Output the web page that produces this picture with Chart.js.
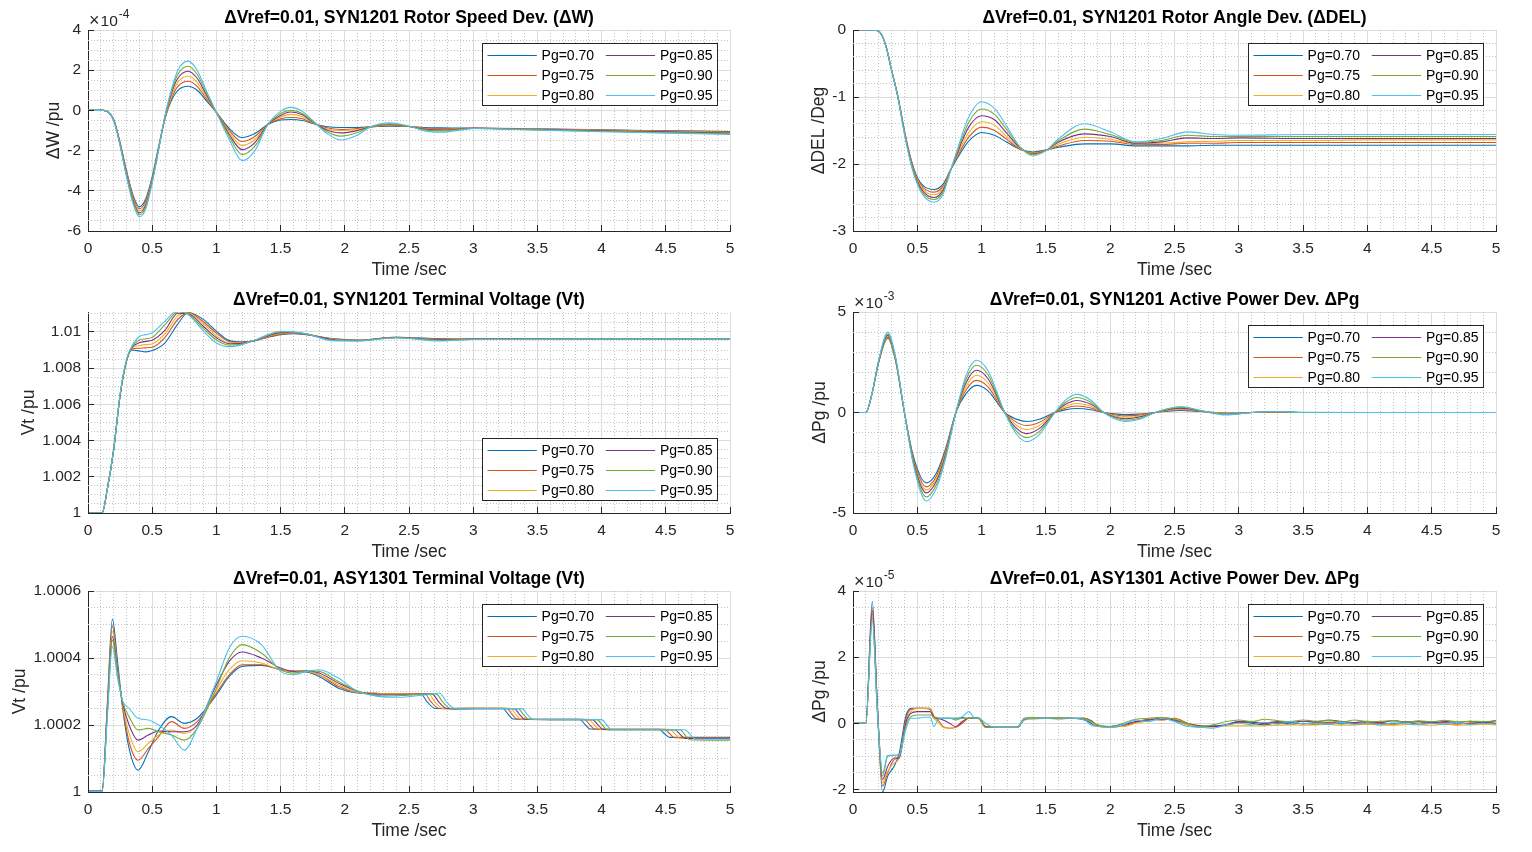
<!DOCTYPE html>
<html><head><meta charset="utf-8">
<script src="https://cdn.jsdelivr.net/npm/chart.js@4.4.1/dist/chart.umd.min.js"></script>
<style>
html,body{margin:0;padding:0;background:#fff;width:1532px;height:852px;overflow:hidden;position:relative}
canvas{position:absolute}
</style>
</head><body>
<canvas id="p1"></canvas><canvas id="p2"></canvas><canvas id="p3"></canvas>
<canvas id="p4"></canvas><canvas id="p5"></canvas><canvas id="p6"></canvas>
<script>
// ---------- series labels / colours ----------
const PG_LABELS = ['Pg=0.70','Pg=0.75','Pg=0.80','Pg=0.85','Pg=0.90','Pg=0.95'];
const COLORS = ['#0072BD','#D95319','#EDB120','#7E2F8E','#77AC30','#4DBEEE'];

// ---------- tick labels ----------
const X_TICKS = [0,0.5,1,1.5,2,2.5,3,3.5,4,4.5,5];
const DW_TICKS = [-6,-4,-2,0,2,4];
const DEL_TICKS = [-3,-2,-1,0];
const VT1_TICKS = [1,1.002,1.004,1.006,1.008,1.01];
const PG1_TICKS = [-5,0,5];
const VT2_TICKS = [1,1.0002,1.0004,1.0006];
const PG2_TICKS = [-2,0,2,4];

// ---------- SYN1201 rotor speed deviation (x1e-4 pu) ----------
const T_DW = [0,0.12,0.2,0.25,0.3,0.35,0.4,0.45,0.5,0.55,0.6,0.65,0.7,0.78,0.85,0.92,1.0,1.1,1.2,1.3,1.4,1.5,1.58,1.67,1.75,1.85,1.97,2.1,2.2,2.35,2.5,2.62,2.75,2.9,3.0,3.5,4.0,4.5,5.0];
const DW = [
 [0,0,-0.45,-1.6,-3.0,-4.2,-4.8,-4.4,-3.3,-1.8,-0.4,0.5,1.0,1.2,1.0,0.5,-0.1,-0.9,-1.35,-1.15,-0.7,-0.48,-0.45,-0.5,-0.65,-0.8,-0.85,-0.85,-0.82,-0.78,-0.8,-0.85,-0.87,-0.88,-0.88,-0.92,-0.97,-1.01,-1.05],
 [0,0,-0.46,-1.63,-3.06,-4.28,-4.9,-4.5,-3.4,-1.85,-0.4,0.6,1.2,1.45,1.2,0.6,-0.1,-1.0,-1.55,-1.3,-0.7,-0.42,-0.35,-0.42,-0.63,-0.85,-0.95,-0.9,-0.82,-0.76,-0.8,-0.88,-0.92,-0.9,-0.88,-0.93,-0.98,-1.03,-1.08],
 [0,0,-0.47,-1.66,-3.12,-4.37,-5.0,-4.6,-3.45,-1.9,-0.35,0.7,1.4,1.7,1.4,0.7,-0.1,-1.1,-1.75,-1.45,-0.7,-0.33,-0.2,-0.32,-0.6,-0.9,-1.0,-0.95,-0.82,-0.73,-0.8,-0.9,-0.95,-0.92,-0.89,-0.94,-0.99,-1.05,-1.1],
 [0,0,-0.48,-1.7,-3.18,-4.45,-5.1,-4.7,-3.5,-1.9,-0.3,0.85,1.6,1.95,1.6,0.8,-0.1,-1.2,-1.95,-1.6,-0.7,-0.25,-0.08,-0.22,-0.58,-0.95,-1.12,-1.0,-0.82,-0.7,-0.8,-0.93,-0.98,-0.93,-0.89,-0.95,-1.01,-1.07,-1.13],
 [0,0,-0.49,-1.73,-3.24,-4.54,-5.2,-4.8,-3.55,-1.95,-0.28,0.95,1.8,2.2,1.8,0.9,-0.1,-1.3,-2.2,-1.78,-0.7,-0.15,0.0,-0.15,-0.55,-1.02,-1.28,-1.1,-0.82,-0.67,-0.8,-0.97,-1.02,-0.95,-0.9,-0.97,-1.04,-1.1,-1.16],
 [0,0,-0.5,-1.77,-3.3,-4.62,-5.3,-4.9,-3.6,-1.95,-0.25,1.05,2.0,2.45,2.0,1.0,-0.1,-1.45,-2.5,-2.0,-0.7,-0.05,0.15,-0.05,-0.5,-1.1,-1.47,-1.22,-0.82,-0.62,-0.78,-1.02,-1.08,-0.98,-0.9,-0.98,-1.06,-1.13,-1.2]
];

// ---------- SYN1201 rotor angle deviation (deg) ----------
const T_DEL = [0,0.15,0.2,0.25,0.3,0.35,0.4,0.45,0.5,0.55,0.63,0.7,0.75,0.8,0.9,1.0,1.1,1.2,1.3,1.4,1.5,1.6,1.8,2.0,2.2,2.4,2.6,2.8,3.0,3.5,4.0,4.5,5.0];
const DEL = [
 [0,0,-0.02,-0.2,-0.6,-1.0,-1.5,-1.92,-2.2,-2.33,-2.38,-2.3,-2.12,-1.95,-1.66,-1.53,-1.57,-1.68,-1.78,-1.82,-1.79,-1.75,-1.7,-1.7,-1.73,-1.73,-1.73,-1.72,-1.72,-1.72,-1.72,-1.72,-1.72],
 [0,0,-0.02,-0.2,-0.6,-1.0,-1.51,-1.94,-2.22,-2.36,-2.42,-2.33,-2.12,-1.93,-1.6,-1.45,-1.5,-1.64,-1.78,-1.83,-1.79,-1.73,-1.65,-1.66,-1.71,-1.71,-1.69,-1.69,-1.68,-1.68,-1.68,-1.68,-1.68],
 [0,0,-0.02,-0.2,-0.6,-1.0,-1.52,-1.95,-2.24,-2.39,-2.46,-2.36,-2.13,-1.91,-1.53,-1.37,-1.42,-1.6,-1.77,-1.84,-1.8,-1.7,-1.6,-1.63,-1.7,-1.69,-1.67,-1.66,-1.65,-1.65,-1.64,-1.64,-1.64],
 [0,0,-0.02,-0.2,-0.6,-1.01,-1.53,-1.97,-2.26,-2.42,-2.5,-2.39,-2.14,-1.89,-1.45,-1.28,-1.34,-1.55,-1.76,-1.85,-1.8,-1.67,-1.55,-1.59,-1.69,-1.67,-1.61,-1.62,-1.61,-1.62,-1.62,-1.62,-1.62],
 [0,0,-0.02,-0.2,-0.6,-1.01,-1.54,-1.98,-2.28,-2.45,-2.53,-2.42,-2.15,-1.87,-1.38,-1.18,-1.26,-1.5,-1.75,-1.86,-1.8,-1.65,-1.48,-1.56,-1.68,-1.65,-1.57,-1.59,-1.59,-1.59,-1.59,-1.59,-1.59],
 [0,0,-0.02,-0.2,-0.6,-1.02,-1.55,-2.0,-2.3,-2.48,-2.57,-2.45,-2.15,-1.85,-1.3,-1.07,-1.17,-1.45,-1.75,-1.88,-1.8,-1.62,-1.4,-1.52,-1.67,-1.62,-1.52,-1.56,-1.57,-1.56,-1.56,-1.56,-1.56]
];

// ---------- SYN1201 terminal voltage (pu) ----------
const T_VT1 = [0,0.11,0.15,0.2,0.25,0.3,0.34,0.4,0.45,0.5,0.6,0.7,0.78,0.9,1.0,1.1,1.2,1.3,1.4,1.5,1.6,1.7,1.9,2.1,2.4,2.75,3.0,4.0,5.0];
const VT1 = [
 [1,1,1.0013,1.0035,1.0065,1.0084,1.009,1.00895,1.0089,1.00897,1.0094,1.01044,1.01107,1.01068,1.01004,1.00952,1.00945,1.00952,1.0097,1.00985,1.0099,1.00985,1.00963,1.00955,1.0097,1.00962,1.0096,1.0096,1.0096],
 [1,1,1.0013,1.0035,1.0065,1.0084,1.00905,1.0091,1.00912,1.00915,1.0097,1.0107,1.01105,1.01055,1.00993,1.00947,1.00942,1.00952,1.00972,1.00988,1.00992,1.00986,1.00961,1.00954,1.0097,1.0096,1.0096,1.0096,1.0096],
 [1,1,1.0013,1.0035,1.0065,1.0084,1.0091,1.00925,1.0093,1.00933,1.0099,1.0109,1.01104,1.01045,1.00978,1.0094,1.0094,1.00953,1.00975,1.00992,1.00994,1.00988,1.0096,1.00953,1.00969,1.00958,1.0096,1.0096,1.0096],
 [1,1,1.0013,1.0035,1.0065,1.0084,1.00912,1.0094,1.00948,1.00954,1.0101,1.01103,1.011,1.0103,1.00968,1.00935,1.00937,1.00953,1.00978,1.00996,1.00996,1.00988,1.00958,1.00952,1.00969,1.00956,1.0096,1.0096,1.0096],
 [1,1,1.0013,1.0035,1.0065,1.0084,1.00915,1.00955,1.00962,1.0097,1.0104,1.01112,1.01098,1.01018,1.00955,1.00927,1.00933,1.00954,1.00982,1.01,1.00998,1.00989,1.00955,1.00951,1.00968,1.00953,1.00959,1.0096,1.0096],
 [1,1,1.0013,1.0035,1.0066,1.0085,1.0092,1.00975,1.00985,1.00995,1.0106,1.0112,1.01096,1.01004,1.00939,1.00919,1.0093,1.00955,1.00985,1.01004,1.01,1.0099,1.00952,1.0095,1.00968,1.0095,1.00958,1.0096,1.0096]
];

// ---------- SYN1201 active power deviation (x1e-3 pu) ----------
const T_PG1 = [0,0.1,0.15,0.2,0.27,0.33,0.4,0.47,0.57,0.65,0.72,0.8,0.88,0.96,1.05,1.18,1.27,1.35,1.45,1.57,1.65,1.74,1.85,1.95,2.03,2.12,2.22,2.35,2.45,2.55,2.7,2.9,3.1,3.3,3.5,4.0,5.0];
const PG1 = [
 [0,0,1.0,2.5,3.7,2.6,0,-2.2,-3.5,-3.0,-1.8,0,0.95,1.35,1.08,0,-0.33,-0.45,-0.34,0,0.13,0.2,0.14,0,-0.07,-0.1,-0.08,0,0.07,0.1,0.05,-0.03,0,0.02,0,0,0],
 [0,0,1.0,2.52,3.75,2.63,0,-2.3,-3.7,-3.15,-1.9,0,1.13,1.6,1.28,0,-0.48,-0.65,-0.49,0,0.21,0.32,0.22,0,-0.11,-0.17,-0.13,0,0.1,0.14,0.07,-0.05,0,0.03,0,0,0],
 [0,0,1.0,2.54,3.8,2.66,0,-2.4,-3.85,-3.27,-2.0,0,1.31,1.85,1.48,0,-0.63,-0.85,-0.64,0,0.3,0.45,0.31,0,-0.16,-0.24,-0.19,0,0.12,0.18,0.08,-0.07,0,0.03,0,0,0],
 [0,0,1.0,2.56,3.85,2.7,0,-2.45,-4.0,-3.4,-2.08,0,1.49,2.1,1.68,0,-0.78,-1.05,-0.79,0,0.4,0.6,0.41,0,-0.21,-0.31,-0.24,0,0.15,0.22,0.09,-0.09,0,0.04,0,0,0],
 [0,0,1.0,2.58,3.9,2.73,0,-2.52,-4.2,-3.57,-2.18,0,1.67,2.35,1.88,0,-0.93,-1.25,-0.94,0,0.5,0.75,0.51,0,-0.25,-0.38,-0.3,0,0.18,0.26,0.1,-0.1,0,0.04,0,0,0],
 [0,0,1.0,2.6,4.0,2.8,0,-2.6,-4.4,-3.75,-2.3,0,1.85,2.6,2.08,0,-1.07,-1.45,-1.09,0,0.6,0.9,0.61,0,-0.3,-0.45,-0.35,0,0.2,0.3,0.1,-0.12,0,0.05,0.01,0,0]
];

// ---------- ASY1301 terminal voltage (pu) ----------
const T_VT2_EARLY = [0,0.11,0.15,0.19,0.23,0.27,0.32,0.39,0.47,0.55,0.65,0.75,0.85,1.0,1.1,1.2,1.35,1.5,1.6,1.7,1.8,1.95,2.1];
const VT2_EARLY = [
 [1.000004,1.000004,1.00026,1.000516,1.00039,1.00025,1.00013,1.000065,1.00012,1.000185,1.000225,1.000205,1.00022,1.00029,1.000345,1.000375,1.000378,1.000365,1.00036,1.000358,1.000345,1.00031,1.000296],
 [1.000003,1.000003,1.00025,1.000496,1.00037,1.000255,1.00015,1.000095,1.00013,1.000165,1.00021,1.00019,1.00021,1.000295,1.00035,1.00038,1.00038,1.000365,1.00036,1.00036,1.00035,1.000315,1.000297],
 [1.000002,1.000002,1.00024,1.000479,1.000365,1.00026,1.000175,1.00012,1.000145,1.00017,1.000185,1.000175,1.0002,1.000305,1.000365,1.000392,1.000385,1.000365,1.00036,1.00036,1.00035,1.00032,1.000297],
 [1.000002,1.000002,1.000235,1.000464,1.00036,1.000265,1.0002,1.000155,1.00017,1.000182,1.00018,1.00018,1.0002,1.00032,1.00039,1.000418,1.0004,1.00037,1.00036,1.000362,1.000355,1.000325,1.0003],
 [1.000002,1.000002,1.00023,1.000454,1.000355,1.00027,1.000225,1.000185,1.00019,1.00018,1.00017,1.000155,1.00019,1.00031,1.0004,1.00044,1.000415,1.000365,1.000355,1.000362,1.00036,1.00033,1.000302],
 [1.000002,1.000002,1.00022,1.000434,1.00034,1.000272,1.00025,1.00022,1.000215,1.0002,1.00017,1.000125,1.00019,1.00033,1.00043,1.000465,1.00044,1.00036,1.00035,1.00036,1.000365,1.00034,1.0003]
];
const T_VT2_LATE = [
 [2.2,2.3,2.45,2.59,2.64,2.7,2.8,3.0,3.23,3.27,3.31,3.5,3.83,3.87,3.91,4.2,4.45,4.49,4.53,4.8,5.0],
 [2.2,2.3,2.45,2.62,2.67,2.73,2.83,3.0,3.26,3.3,3.34,3.55,3.865,3.905,3.945,4.2,4.49,4.53,4.57,4.8,5.0],
 [2.2,2.3,2.45,2.65,2.7,2.76,2.86,3.0,3.29,3.33,3.37,3.55,3.9,3.94,3.98,4.2,4.53,4.57,4.61,4.8,5.0],
 [2.2,2.3,2.45,2.68,2.73,2.79,2.89,3.05,3.32,3.36,3.4,3.6,3.93,3.97,4.01,4.25,4.57,4.61,4.65,4.85,5.0],
 [2.2,2.3,2.45,2.71,2.76,2.82,2.92,3.05,3.35,3.39,3.43,3.6,3.965,4.005,4.045,4.25,4.61,4.65,4.69,4.85,5.0],
 [2.2,2.3,2.45,2.62,2.74,2.79,2.85,2.95,3.1,3.38,3.42,3.47,3.65,4.0,4.04,4.08,4.3,4.65,4.69,4.73,4.9,5.0]
];
const VT2_LATE = [
 [1.000295,1.000294,1.000294,1.000294,1.00027,1.00025,1.000249,1.00025,1.00025,1.000233,1.000218,1.000217,1.000217,1.000202,1.000188,1.000187,1.000187,1.000174,1.000163,1.000163,1.000163],
 [1.000295,1.000294,1.000294,1.000294,1.00027,1.00025,1.000249,1.00025,1.00025,1.000233,1.000218,1.000217,1.000217,1.000202,1.000188,1.000187,1.000187,1.000174,1.000162,1.000162,1.000162],
 [1.000295,1.000294,1.000294,1.000294,1.00027,1.00025,1.000249,1.00025,1.00025,1.000233,1.000218,1.000217,1.000217,1.000202,1.000188,1.000187,1.000187,1.000174,1.00016,1.00016,1.00016],
 [1.000293,1.000292,1.000292,1.000293,1.00027,1.00025,1.000248,1.000249,1.000249,1.000232,1.000217,1.000216,1.000216,1.000201,1.000187,1.000186,1.000186,1.000173,1.00016,1.00016,1.00016],
 [1.00029,1.000287,1.000288,1.000293,1.00027,1.00025,1.000248,1.000249,1.000249,1.000232,1.000217,1.000216,1.000216,1.0002,1.000186,1.000186,1.000186,1.00017,1.000156,1.000155,1.000155],
 [1.00029,1.000284,1.000283,1.00029,1.000295,1.00027,1.00025,1.000248,1.000249,1.000249,1.000232,1.000217,1.000216,1.000216,1.0002,1.000186,1.000186,1.000186,1.000172,1.000158,1.000158,1.000158]
];

// ---------- ASY1301 active power deviation (x1e-5 pu) ----------
const T_PG2 = [0,0.1,0.15,0.19,0.23,0.27,0.32,0.36,0.41,0.45,0.5,0.55,0.6,
 0.63,0.66,0.7,0.75,0.8,0.85,0.9,0.95,0.98,1.03,
 1.1,1.2,1.28,1.33,1.4,1.5,1.6,1.7,1.8,1.85,1.9,2.0,
 2.1,2.2,2.3,2.4,2.5,2.6,2.7,2.8,2.9,3.0,3.1,3.2,3.3,3.4,3.5,3.6,3.7,3.8,3.9,4.0,4.1,4.2,4.3,4.4,4.5,4.6,4.7,4.8,4.9,5.0];
const PG2 = [
 [0,0,3.68,0.5,-2.08,-1.6,-1.3,-0.9,0.2,0.45,0.45,0.45,0.42,
  0.15,0.15,0.15,0.15,0.15,0.17,0.15,0.17,0.15,-0.12,
  -0.12,-0.12,-0.12,0.1,0.15,0.15,0.15,0.15,0.1,0.0,-0.1,-0.1,
  -0.05,0.05,0.1,0.12,0.08,-0.05,-0.1,-0.08,-0.05,0.05,0.0,-0.05,0.02,-0.03,0.0,-0.04,0.03,-0.02,0.0,-0.03,0.02,-0.02,0.03,-0.03,0.0,-0.04,0.01,-0.02,0.02,-0.01],
 [0,0,3.5,0.4,-1.9,-1.5,-1.1,-1.0,0.1,0.42,0.45,0.45,0.45,
  0.2,0.1,-0.1,-0.15,-0.12,0.0,0.15,0.15,0.15,-0.1,
  -0.12,-0.12,-0.12,0.12,0.15,0.15,0.15,0.15,0.12,0.05,-0.08,-0.12,
  -0.08,0.02,0.12,0.1,0.15,0.0,-0.12,-0.1,-0.06,0.02,0.05,-0.02,0.0,0.04,-0.02,0.02,0.0,0.05,-0.02,0.03,0.0,-0.03,0.02,0.04,-0.01,0.02,-0.03,0.01,0.03,0.0],
 [0,0,3.3,0.3,-1.8,-1.45,-1.2,-1.05,0.0,0.35,0.45,0.45,0.45,
  0.15,0.05,-0.12,-0.15,-0.1,0.05,0.15,0.15,0.12,-0.12,
  -0.12,-0.12,-0.1,0.1,0.12,0.15,0.12,0.15,0.15,0.05,-0.1,-0.1,
  -0.1,0.0,0.08,0.15,0.1,-0.05,-0.08,-0.12,-0.08,-0.08,-0.08,-0.08,-0.06,-0.05,-0.06,-0.05,-0.04,-0.06,-0.05,-0.03,-0.05,-0.06,-0.04,-0.05,-0.06,-0.03,-0.06,-0.05,-0.04,-0.05],
 [0,0,3.4,0.45,-1.7,-1.3,-1.05,-1.05,0.0,0.3,0.35,0.35,0.35,
  0.2,0.15,0.1,0.0,-0.1,0.05,0.15,0.15,0.15,-0.1,
  -0.12,-0.12,-0.12,0.12,0.15,0.15,0.15,0.15,0.15,0.08,-0.05,-0.1,
  -0.05,0.05,0.1,0.15,0.1,0.0,-0.08,-0.1,-0.05,0.05,0.03,0.0,0.05,0.02,0.06,0.04,0.1,0.05,0.02,0.06,0.03,0.08,0.04,0.06,0.02,0.05,0.03,0.06,0.02,0.08],
 [0,0,3.2,0.4,-1.6,-1.0,-0.97,-0.97,-0.1,0.2,0.25,0.25,0.25,
  0.2,0.15,0.15,0.15,0.1,0.15,0.15,0.15,0.15,-0.12,
  -0.12,-0.12,-0.12,0.15,0.18,0.15,0.18,0.15,0.15,0.05,-0.05,-0.1,
  0.0,0.12,0.15,0.18,0.12,0.0,-0.1,-0.05,0.05,0.1,0.05,0.12,0.08,0.05,0.1,0.06,0.08,0.04,0.1,0.05,0.06,0.08,0.03,0.07,0.05,0.09,0.04,0.06,0.05,0.07],
 [0,0,3.1,0.3,-1.5,-0.97,-0.97,-0.95,-0.2,0.15,0.15,0.18,0.18,
  -0.1,0.1,0.15,0.15,0.15,0.2,0.35,0.15,0.15,0.0,
  -0.12,-0.12,-0.12,0.12,0.15,0.15,0.15,0.15,0.1,-0.05,-0.1,-0.12,
  -0.05,0.1,0.05,0.15,0.05,-0.1,-0.12,-0.15,-0.05,0.0,-0.05,0.03,-0.03,0.05,-0.02,0.0,-0.04,0.02,-0.03,0.0,-0.05,0.01,-0.02,-0.04,0.0,-0.03,0.02,-0.04,0.0,-0.03]
];

// ---------- rendering ----------
const FONT = "'Liberation Sans', Arial, Helvetica, sans-serif";
const AX = '#262626';
const xy = (t, v) => t.map((x, i) => ({x, y: v[i]}));
const alignPx = p => Math.round(p - 0.5) + 0.5;

const COLS = [{left: 88, right: 730, lax: 88}, {left: 853, right: 1496, lax: 60}];
const ROWS = [{top: 30, bottom: 231}, {top: 312, bottom: 513}, {top: 591, bottom: 792}];
const TOPM = 30, BOTM = 50, RIGHTM = 20;

const matlabPlugin = {
  id: 'matlab',
  beforeDatasetsDraw(chart, args, o) {
    const {ctx, chartArea: a, scales: {x, y}} = chart;
    ctx.save();
    ctx.strokeStyle = '#C2C2C2'; ctx.lineWidth = 1; ctx.setLineDash([1, 2]);
    const minor = (scale, step, majors, horiz) => {
      const k0 = Math.ceil(scale.min / step - 1e-6), k1 = Math.floor(scale.max / step + 1e-6);
      for (let k = k0; k <= k1; k++) {
        const v = k * step;
        if (majors.some(m => Math.abs(m - v) < step * 0.01)) continue;
        const p = alignPx(scale.getPixelForValue(v));
        ctx.beginPath();
        if (horiz) { ctx.moveTo(p, a.top); ctx.lineTo(p, a.bottom); }
        else { ctx.moveTo(a.left, p); ctx.lineTo(a.right, p); }
        ctx.stroke();
      }
    };
    minor(x, 0.1, X_TICKS, true);
    minor(y, o.yMinor, o.yTicks, false);
    ctx.restore();
  },
  afterDatasetsDraw(chart, args, o) {
    const {ctx, chartArea: a} = chart;
    const W = 235, H = 62;
    const L = Math.round(a.right - 13 - W) + 0.5;
    const T = (o.legend === 'se' ? Math.round(a.bottom - 13 - H) : Math.round(a.top + 13)) + 0.5;
    ctx.save();
    ctx.setLineDash([]);
    ctx.fillStyle = '#fff'; ctx.fillRect(L, T, W, H);
    ctx.strokeStyle = AX; ctx.lineWidth = 1; ctx.strokeRect(L, T, W, H);
    ctx.font = '14px ' + FONT; ctx.textAlign = 'right'; ctx.textBaseline = 'middle';
    chart.data.datasets.forEach((ds, i) => {
      const col = Math.floor(i / 3), row = i % 3;
      const yy = Math.round(T + 11.6 + row * 19.7) + 0.5;
      const x1 = L + 5 + col * 118.3;
      ctx.strokeStyle = ds.borderColor;
      ctx.beginPath(); ctx.moveTo(x1, yy); ctx.lineTo(x1 + 49.3, yy); ctx.stroke();
      ctx.fillStyle = '#000';
      ctx.fillText(ds.label, L + 111.6 + col * 118.4, yy + 0.5);
    });
    ctx.restore();
  },
  afterDraw(chart, args, o) {
    const {ctx, chartArea: a, scales: {x, y}} = chart;
    ctx.save();
    ctx.strokeStyle = AX; ctx.lineWidth = 1; ctx.setLineDash([]);
    x.ticks.forEach(t => {
      const p = alignPx(x.getPixelForValue(t.value));
      ctx.beginPath(); ctx.moveTo(p, a.bottom); ctx.lineTo(p, a.bottom - 6); ctx.stroke();
    });
    y.ticks.forEach(t => {
      const p = alignPx(y.getPixelForValue(t.value));
      ctx.beginPath(); ctx.moveTo(a.left, p); ctx.lineTo(a.left + 6, p); ctx.stroke();
    });
    if (o.expo) {
      ctx.fillStyle = AX; ctx.textAlign = 'left'; ctx.textBaseline = 'alphabetic';
      ctx.font = '18px ' + FONT;
      ctx.fillText('\u00D7', a.left + 1, a.top - 4);
      const w1 = ctx.measureText('\u00D7').width;
      ctx.font = '15.5px ' + FONT;
      ctx.fillText('10', a.left + 2 + w1, a.top - 4);
      const w2 = ctx.measureText('10').width;
      ctx.font = '12px ' + FONT;
      ctx.fillText(o.expo, a.left + 3 + w1 + w2, a.top - 12);
    }
    ctx.restore();
  }
};

const PLOTS = [
  {id: 'p1', col: 0, row: 0, title: '\u0394Vref=0.01, SYN1201 Rotor Speed Dev. (\u0394W)', ylabel: '\u0394W /pu', ytp: 43.5,
   yMin: -6, yMax: 4, yTicks: DW_TICKS, yMinor: 0.5, expo: '-4', legend: 'ne', series: DW.map(v => xy(T_DW, v))},
  {id: 'p2', col: 1, row: 0, title: '\u0394Vref=0.01, SYN1201 Rotor Angle Dev. (\u0394DEL)', ylabel: '\u0394DEL /Deg', ytp: 15.5,
   yMin: -3, yMax: 0, yTicks: DEL_TICKS, yMinor: 0.2, expo: null, legend: 'ne', series: DEL.map(v => xy(T_DEL, v))},
  {id: 'p3', col: 0, row: 1, title: '\u0394Vref=0.01, SYN1201 Terminal Voltage (Vt)', ylabel: 'Vt /pu', ytp: 18.5,
   yMin: 1, yMax: 1.0111, yTicks: VT1_TICKS, yMinor: 0.0005, expo: null, legend: 'se', series: VT1.map(v => xy(T_VT1, v))},
  {id: 'p4', col: 1, row: 1, title: '\u0394Vref=0.01, SYN1201 Active Power Dev. \u0394Pg', ylabel: '\u0394Pg /pu', ytp: 17,
   yMin: -5, yMax: 5, yTicks: PG1_TICKS, yMinor: 1, expo: '-3', legend: 'ne', series: PG1.map(v => xy(T_PG1, v))},
  {id: 'p5', col: 0, row: 2, title: '\u0394Vref=0.01, ASY1301 Terminal Voltage (Vt)', ylabel: 'Vt /pu', ytp: 9.5,
   yMin: 1, yMax: 1.0006, yTicks: VT2_TICKS, yMinor: 0.00005, expo: null, legend: 'ne',
   series: VT2_EARLY.map((v, i) => xy(T_VT2_EARLY.concat(T_VT2_LATE[i]), v.concat(VT2_LATE[i])))},
  {id: 'p6', col: 1, row: 2, title: '\u0394Vref=0.01, ASY1301 Active Power Dev. \u0394Pg', ylabel: '\u0394Pg /pu', ytp: 17,
   yMin: -2.08, yMax: 4, yTicks: PG2_TICKS, yMinor: 0.5, expo: '-5', legend: 'ne', series: PG2.map(v => xy(T_PG2, v))}
];

PLOTS.forEach(P => {
  const C = COLS[P.col], R = ROWS[P.row];
  const cv = document.getElementById(P.id);
  const w = C.lax + (C.right - C.left) + RIGHTM;
  const h = TOPM + (R.bottom - R.top) + BOTM;
  cv.width = w; cv.height = h;
  cv.style.left = (C.left - C.lax) + 'px';
  cv.style.top = (R.top - TOPM) + 'px';
  cv.style.width = w + 'px'; cv.style.height = h + 'px';
  const tickFont = {family: FONT, size: 15.5};
  const labFont = {family: FONT, size: 17.5};
  new Chart(cv.getContext('2d'), {
    type: 'line',
    data: {
      datasets: P.series.map((d, i) => ({
        label: PG_LABELS[i], data: d, borderColor: COLORS[i], backgroundColor: COLORS[i],
        borderWidth: 1.1, pointRadius: 0, fill: false, cubicInterpolationMode: 'monotone', order: 5 - i
      }))
    },
    options: {
      responsive: false, animation: false, devicePixelRatio: 1,
      layout: {padding: {top: 0, right: RIGHTM, bottom: 0, left: 0}},
      plugins: {
        legend: {display: false}, tooltip: {enabled: false},
        title: {display: true, text: P.title, fullSize: false, color: '#000',
                font: {family: FONT, size: 17.5, weight: 'bold'}, padding: {top: 7.5, bottom: 1.5}},
        matlab: {yMinor: P.yMinor, yTicks: P.yTicks, expo: P.expo, legend: P.legend}
      },
      scales: {
        x: {
          type: 'linear', min: 0, max: 5,
          afterBuildTicks: s => { s.ticks = X_TICKS.map(v => ({value: v})); },
          afterFit: s => { s.height = BOTM; },
          grid: {color: '#DCDCDC', lineWidth: 1, drawTicks: false},
          border: {display: true, color: AX, width: 1},
          ticks: {padding: 8, color: AX, font: tickFont, autoSkip: false, maxRotation: 0, callback: v => String(v)},
          title: {display: true, text: 'Time /sec', color: AX, font: labFont, padding: {top: 0, bottom: 0}}
        },
        y: {
          type: 'linear', min: P.yMin, max: P.yMax,
          afterBuildTicks: s => { s.ticks = P.yTicks.map(v => ({value: v})); },
          afterFit: s => { s.width = C.lax; },
          grid: {color: '#DCDCDC', lineWidth: 1, drawTicks: false},
          border: {display: true, color: AX, width: 1},
          ticks: {padding: 7, color: AX, font: tickFont, autoSkip: false, callback: v => String(v)},
          title: {display: true, text: P.ylabel, color: AX, font: labFont, padding: {top: P.ytp, bottom: 0}}
        }
      }
    },
    plugins: [matlabPlugin]
  });
});
</script>
</body></html>
